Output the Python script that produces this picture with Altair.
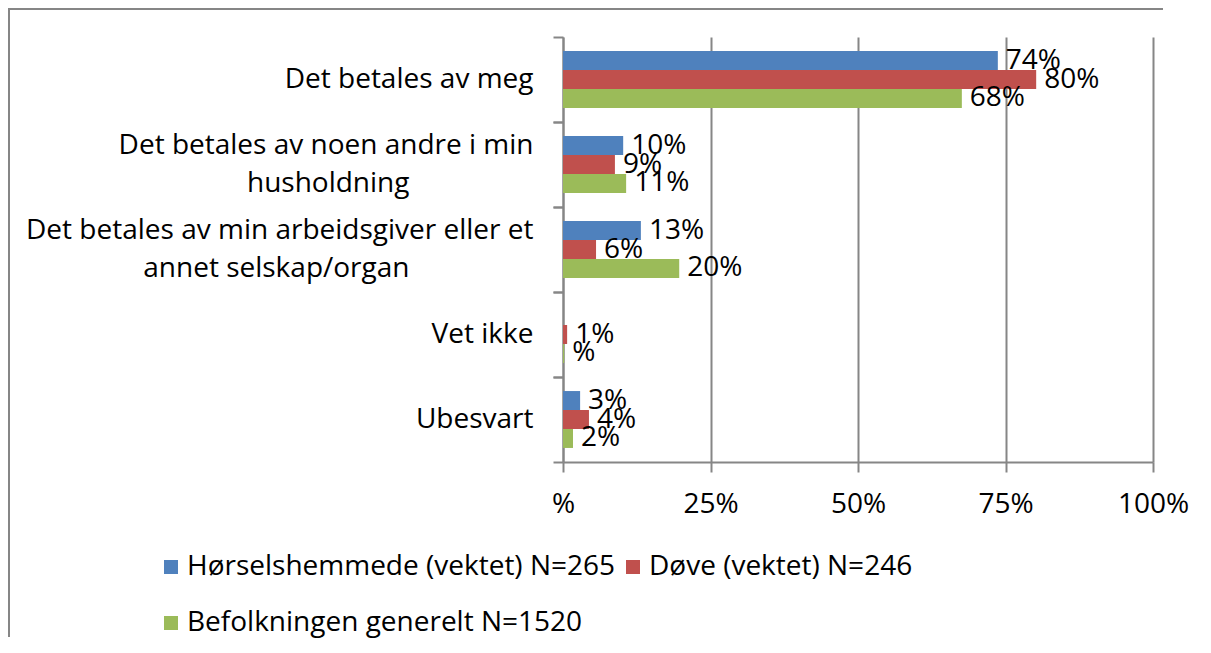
import altair as alt
import pandas as pd

categories = [
    "Det betales av meg",
    "Det betales av noen andre i min\nhusholdning",
    "Det betales av min arbeidsgiver eller et\nannet selskap/organ",
    "Vet ikke",
    "Ubesvart",
]
series = [
    "Hørselshemmede (vektet) N=265",
    "Døve (vektet) N=246",
    "Befolkningen generelt N=1520",
]
colors = ["#4F81BD", "#C0504D", "#9BBB59"]
horsel = [73.7, 10.2, 13.2, None, 2.9]
dove = [80.2, 8.8, 5.6, 0.7, 4.4]
befolkning = [67.6, 10.7, 19.7, 0.2, 1.7]
x_ticks = [0, 25, 50, 75, 100]

rows = []
for s, vals in zip(series, [horsel, dove, befolkning]):
    for c, v in zip(categories, vals):
        rows.append({"category": c, "series": s, "value": v})
df = pd.DataFrame(rows)

FONT = "Open Sans"
FS = 28
GRAY = "#868686"

x_enc = alt.X(
    "value:Q",
    scale=alt.Scale(domain=[0, 100]),
    axis=alt.Axis(
        title=None,
        values=x_ticks,
        labelExpr="datum.value == 0 ? '%' : datum.value + '%'",
        labelFlush=False,
        grid=True,
        gridColor=GRAY,
        gridWidth=2,
        domainColor=GRAY,
        domainWidth=2,
        tickColor=GRAY,
        tickWidth=2,
        tickSize=10,
        labelPadding=18,
        labelFontSize=FS,
        labelColor="black",
    ),
)
y_scale = alt.Scale(paddingInner=0, paddingOuter=0)
yoff = alt.YOffset("series:N", sort=series, scale=alt.Scale(paddingInner=0, paddingOuter=0.74))

bars = alt.Chart(df).mark_bar().encode(
    x=x_enc,
    y=alt.Y(
        "category:N",
        sort=categories,
        scale=y_scale,
        axis=alt.Axis(
            title=None,
            orient="left",
            labelExpr="split(datum.value, '\\n')[0]",
            labelOffset={"condition": {"test": "indexof(datum.value, '\\n') >= 0", "value": -19}, "value": 0},
            bandPosition=0,
            tickSize=10,
            tickColor=GRAY,
            tickWidth=2,
            domainColor=GRAY,
            domainWidth=2,
            labelPadding=20,
            labelFontSize=FS,
            labelColor="black",
            labelLimit=0,
            grid=False,
        ),
    ),
    yOffset=yoff,
    color=alt.Color(
        "series:N",
        sort=series,
        scale=alt.Scale(domain=series, range=colors),
        legend=alt.Legend(
            title=None,
            orient="none",
            legendX=-406,
            legendY=516,
            direction="horizontal",
            columns=2,
            symbolType="square",
            symbolSize=196,
            symbolStrokeWidth=0,
            labelFontSize=FS,
            labelColor="black",
            labelLimit=0,
            labelOffset=2,
            columnPadding=3,
            rowPadding=28,
        ),
    ),
)

labels = alt.Chart(df).transform_filter(
    "isValid(datum.value)"
).transform_calculate(
    label="round(datum.value) == 0 ? '%' : round(datum.value) + '%'"
).mark_text(align="left", baseline="middle", dx=8, fontSize=FS, color="black").encode(
    x=x_enc,
    y=alt.Y(
        "category:N",
        sort=categories,
        scale=y_scale,
        axis=alt.Axis(
            title=None,
            orient="left",
            labelExpr="indexof(datum.value, '\\n') >= 0 ? split(datum.value, '\\n')[1] : ''",
            labelOffset=19,
            labelPadding=144,
            bandPosition=1,
            ticks=True,
            tickSize=10,
            tickColor=GRAY,
            tickWidth=2,
            domain=False,
            grid=False,
            labelFontSize=FS,
            labelColor="black",
            labelLimit=0,
        ),
    ),
    yOffset=yoff,
    text="label:N",
)

frame_top = alt.Chart(pd.DataFrame({"a": [0]})).mark_rule(color=GRAY, strokeWidth=2).encode(
    x=alt.value(-555), x2=alt.value(600), y=alt.value(-28)
)
frame_left = alt.Chart(pd.DataFrame({"a": [0]})).mark_rule(color=GRAY, strokeWidth=2).encode(
    x=alt.value(-554), y=alt.value(-29), y2=alt.value(600)
)

chart = alt.layer(bars, labels, frame_top, frame_left).resolve_axis(y="independent").properties(
    width=590,
    height=425,
    autosize=alt.AutoSizeParams(type="none"),
    padding={"left": 555, "top": 29, "right": 50, "bottom": 183},
).configure(font=FONT).configure_view(strokeWidth=0)

chart.save("out.html", embed_options={"renderer": "svg", "actions": False})
